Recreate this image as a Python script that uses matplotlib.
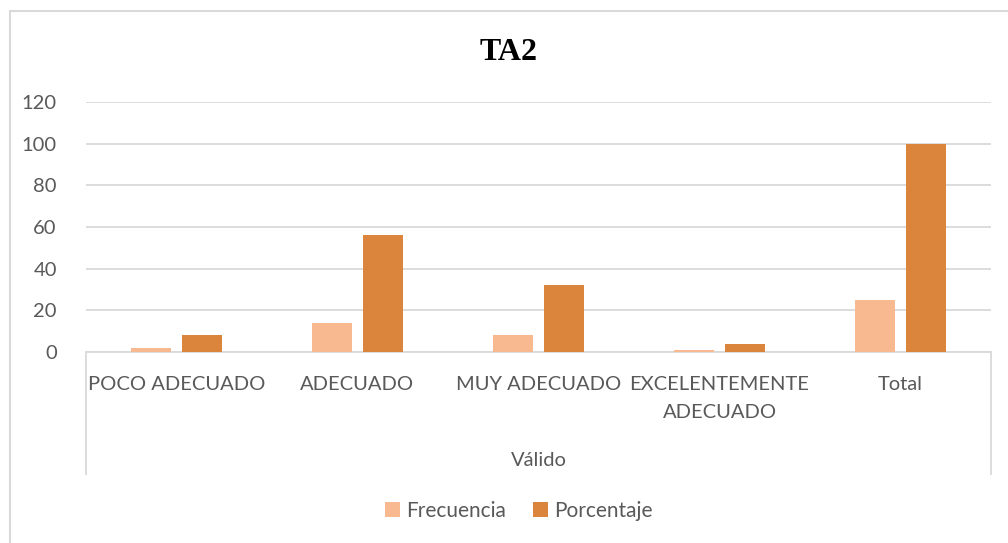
import numpy as np
import matplotlib.pyplot as plt
from matplotlib.patches import Rectangle
from matplotlib.lines import Line2D

categorias = ["POCO ADECUADO", "ADECUADO", "MUY ADECUADO", "EXCELENTEMENTE\nADECUADO", "Total"]
frecuencia = [2, 14, 8, 1, 25]
porcentaje = [8, 56, 32, 4, 100]
grupo = "Válido"
titulo = "TA2"

plt.rcParams['font.family'] = ['Lato', 'DejaVu Sans']
gris = '#595959'
linea = '#D9D9D9'

W, H = 1008, 543
fig = plt.figure(figsize=(W / 100, H / 100), dpi=100)

# marco exterior del grafico
fig.patches.append(Rectangle((10 / W, -0.1), 1.2, 1 - 11 / H + 0.1, transform=fig.transFigure,
                             fill=False, edgecolor=linea, linewidth=1.5))

ax = fig.add_axes([86 / W, 1 - 352 / H, (991 - 86) / W, 250 / H])

x = np.arange(len(categorias))
ancho = 0.226
ax.bar(x - ancho / 2 - 0.028, frecuencia, ancho, color='#F8B890', label='Frecuencia', zorder=3)
ax.bar(x + ancho / 2 + 0.028, porcentaje, ancho, color='#DB843B', label='Porcentaje', zorder=3)

ax.set_xlim(-0.5, len(categorias) - 0.5)
ax.set_ylim(0, 120)
ax.set_yticks(range(0, 121, 20))
ax.grid(axis='y', color=linea, linewidth=1.3, zorder=0)
for s in ['top', 'right', 'left']:
    ax.spines[s].set_visible(False)
ax.spines['bottom'].set_color(linea)
ax.spines['bottom'].set_linewidth(1.3)
ax.tick_params(axis='y', length=0, pad=21, labelsize=14.5, labelcolor=gris)
ax.tick_params(axis='x', length=0, pad=17, labelsize=14.5, labelcolor=gris)
ax.set_xticks(x)
ax.set_xticklabels(categorias, multialignment='center', linespacing=1.8)

# lineas del grupo de categorias
for xv in (0, 1):
    ax.add_line(Line2D([xv, xv], [0, -122 / 250], transform=ax.transAxes, color=linea,
                       linewidth=1.3, clip_on=False))
ax.text(0.5, -108 / 250, grupo, transform=ax.transAxes, ha='center', va='center',
        fontsize=14.5, color=gris)

fig.text(509 / W, 1 - 52 / H, titulo, ha='center', va='center', fontsize=23,
         fontweight='bold', family='Liberation Serif', color='black')

leg = fig.legend(loc='center', bbox_to_anchor=(519 / W, 1 - 511 / H), ncol=2, frameon=False,
                 fontsize=15, handlelength=0.7, handleheight=0.7, handletextpad=0.3,
                 columnspacing=1.3)
for t in leg.get_texts():
    t.set_color(gris)

fig.savefig('out.png', dpi=100)
